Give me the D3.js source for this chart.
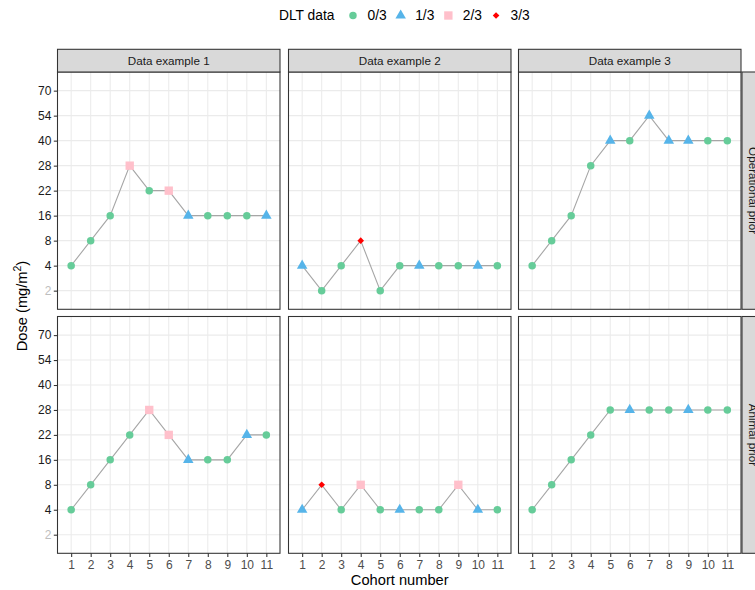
<!DOCTYPE html>
<html>
<head>
<meta charset="utf-8">
<script src="https://cdn.jsdelivr.net/npm/d3@7"></script>
<style>
  body { margin: 0; background: #fff; }
  svg text { font-family: "Liberation Sans", Arial, sans-serif; }
</style>
</head>
<body>
<svg id="chart" width="755" height="590"></svg>
<script>
// dose levels (discrete y axis), cohorts (x)
const doseLevels = ["2", "4", "8", "16", "22", "28", "40", "54", "70"];
const cohorts = [1, 2, 3, 4, 5, 6, 7, 8, 9, 10, 11];
const colLabels = ["Data example 1", "Data example 2", "Data example 3"];
const rowLabels = ["Operational prior", "Animal prior"];
const dltLevels = ["0/3", "1/3", "2/3", "3/3"];

// operational prior
const opEx1Dose = ["4", "8", "16", "28", "22", "22", "16", "16", "16", "16", "16"];
const opEx1Dlt  = [0, 0, 0, 2, 0, 2, 1, 0, 0, 0, 1];
const opEx2Dose = ["4", "2", "4", "8", "2", "4", "4", "4", "4", "4", "4"];
const opEx2Dlt  = [1, 0, 0, 3, 0, 0, 1, 0, 0, 1, 0];
const opEx3Dose = ["4", "8", "16", "28", "40", "40", "54", "40", "40", "40", "40"];
const opEx3Dlt  = [0, 0, 0, 0, 1, 0, 1, 1, 1, 0, 0];

// animal prior
const anEx1Dose = ["4", "8", "16", "22", "28", "22", "16", "16", "16", "22", "22"];
const anEx1Dlt  = [0, 0, 0, 0, 2, 2, 1, 0, 0, 1, 0];
const anEx2Dose = ["4", "8", "4", "8", "4", "4", "4", "4", "8", "4", "4"];
const anEx2Dlt  = [1, 3, 0, 2, 0, 1, 0, 0, 2, 1, 0];
const anEx3Dose = ["4", "8", "16", "22", "28", "28", "28", "28", "28", "28", "28"];
const anEx3Dlt  = [0, 0, 0, 0, 0, 1, 0, 0, 1, 0, 0];

const panels = [
  {row: 0, col: 0, dose: opEx1Dose, dlt: opEx1Dlt},
  {row: 0, col: 1, dose: opEx2Dose, dlt: opEx2Dlt},
  {row: 0, col: 2, dose: opEx3Dose, dlt: opEx3Dlt},
  {row: 1, col: 0, dose: anEx1Dose, dlt: anEx1Dlt},
  {row: 1, col: 1, dose: anEx2Dose, dlt: anEx2Dlt},
  {row: 1, col: 2, dose: anEx3Dose, dlt: anEx3Dlt}
];

const colX = [[57.5, 280], [288.5, 511], [518.5, 741]];
const rowY = [[72, 309.3], [316.5, 553.3]];
const stripTop = 49.3;

const dltColor = d3.scaleOrdinal().domain([0, 1, 2, 3])
  .range(["#66CC99", "#56B4E9", "#FFC0CB", "#FF0000"]);
const dltShape = d3.scaleOrdinal().domain([0, 1, 2, 3])
  .range([d3.symbolCircle, d3.symbolTriangle, d3.symbolSquare, d3.symbolSquare]);
const dltSize = d3.scaleOrdinal().domain([0, 1, 2, 3]).range([44, 48, 70, 22]);
const dltRot = d => d === 3 ? 45 : 0;

const svg = d3.select("#chart");
svg.append("rect").attr("width", 755).attr("height", 590).attr("fill", "#fff");

const tickCol = "#333333";

panels.forEach(p => {
  const [x0, x1] = colX[p.col];
  const [y0, y1] = rowY[p.row];
  const x = d3.scaleLinear().domain([1 - 0.7, 11 + 0.7]).range([x0, x1]);
  const y = d3.scalePoint().domain(doseLevels).range([y1, y0]).padding(0.746);

  const g = svg.append("g");
  g.append("rect").attr("x", x0).attr("y", y0)
    .attr("width", x1 - x0).attr("height", y1 - y0).attr("fill", "#fff");

  // grid
  g.selectAll(".gx").data(cohorts).join("line")
    .attr("x1", d => x(d)).attr("x2", d => x(d))
    .attr("y1", y0).attr("y2", y1)
    .attr("stroke", "#EBEBEB").attr("stroke-width", 1.07);
  g.selectAll(".gy").data(doseLevels).join("line")
    .attr("class", "gy")
    .attr("x1", x0).attr("x2", x1)
    .attr("y1", d => y(d)).attr("y2", d => y(d))
    .attr("stroke", "#EBEBEB").attr("stroke-width", 1.07);

  const pts = cohorts.map((c, i) => ({c, dose: p.dose[i], dlt: p.dlt[i]}));

  g.append("path").datum(pts)
    .attr("fill", "none").attr("stroke", "#A6A6A6").attr("stroke-width", 1.1)
    .attr("d", d3.line().x(d => x(d.c)).y(d => y(d.dose)));

  g.selectAll(".pt").data(pts).join("path")
    .attr("transform", d => `translate(${x(d.c)},${y(d.dose)}) rotate(${dltRot(d.dlt)})`)
    .attr("d", d => d3.symbol().type(dltShape(d.dlt)).size(dltSize(d.dlt))())
    .attr("fill", d => dltColor(d.dlt));

  g.append("rect").attr("x", x0).attr("y", y0)
    .attr("width", x1 - x0).attr("height", y1 - y0)
    .attr("fill", "none").attr("stroke", tickCol).attr("stroke-width", 1.07);

  // axes
  if (p.col === 0) {
    const ay = g.append("g").attr("transform", `translate(${x0},0)`)
      .call(d3.axisLeft(y).tickSize(3.7).tickPadding(2.5));
    ay.select(".domain").remove();
    ay.selectAll(".tick line").attr("stroke", tickCol).attr("stroke-width", 1.07);
    ay.selectAll(".tick text")
      .attr("font-family", "Liberation Sans, Arial, sans-serif")
      .attr("font-size", 12)
      .attr("fill", d => d === "2" ? "#BEBEBE" : "#1A1A1A");
  }
  if (p.row === 1) {
    const ax = g.append("g").attr("transform", `translate(0,${y1})`)
      .call(d3.axisBottom(x).tickValues(cohorts).tickFormat(d3.format("d"))
        .tickSize(3.7).tickPadding(3));
    ax.select(".domain").remove();
    ax.selectAll(".tick line").attr("stroke", tickCol).attr("stroke-width", 1.07);
    ax.selectAll(".tick text")
      .attr("font-family", "Liberation Sans, Arial, sans-serif")
      .attr("font-size", 12).attr("fill", "#4D4D4D");
  }
});

// top strips
colLabels.forEach((lab, i) => {
  const [x0, x1] = colX[i];
  svg.append("rect").attr("x", x0).attr("y", stripTop)
    .attr("width", x1 - x0).attr("height", rowY[0][0] - stripTop)
    .attr("fill", "#D9D9D9").attr("stroke", tickCol).attr("stroke-width", 1.07);
  svg.append("text").attr("x", (x0 + x1) / 2).attr("y", (stripTop + rowY[0][0]) / 2)
    .attr("text-anchor", "middle").attr("dy", "0.35em")
    .attr("font-size", 11.7).attr("fill", "#1A1A1A").text(lab);
});

// right strips (clipped by the picture edge)
rowLabels.forEach((lab, i) => {
  const [y0, y1] = rowY[i];
  const sx = colX[2][1] + 1;
  const sw = rowY[0][0] - stripTop;
  svg.append("rect").attr("x", sx).attr("y", y0)
    .attr("width", sw).attr("height", y1 - y0)
    .attr("fill", "#D9D9D9").attr("stroke", tickCol).attr("stroke-width", 1.07);
  svg.append("text")
    .attr("transform", `translate(${sx + sw / 2},${(y0 + y1) / 2}) rotate(90)`)
    .attr("text-anchor", "middle").attr("dy", "0.35em")
    .attr("font-size", 11.7).attr("fill", "#1A1A1A").text(lab);
});

// axis titles
svg.append("text")
  .attr("x", (colX[1][0] + colX[1][1]) / 2).attr("y", 585)
  .attr("text-anchor", "middle").attr("font-size", 14.67).attr("fill", "#000")
  .text("Cohort number");

const yt = svg.append("text")
  .attr("transform", `translate(27,306) rotate(-90)`)
  .attr("text-anchor", "middle").attr("font-size", 14.67).attr("fill", "#000");
yt.append("tspan").text("Dose (mg/m");
yt.append("tspan").attr("font-size", 10.5).attr("dy", -6).text("2");
yt.append("tspan").attr("dy", 6).text(")");

// legend
const lg = svg.append("g").attr("transform", "translate(0,15.5)");
const title = lg.append("text").attr("x", 279).attr("dy", "0.35em")
  .attr("font-size", 13.8).attr("fill", "#000").text("DLT data");
let cx = 279 + title.node().getComputedTextLength() + 18.5;
[0, 1, 2, 3].forEach((k, i) => {
  lg.append("path")
    .attr("transform", `translate(${cx},0) rotate(${dltRot(k)})`)
    .attr("d", d3.symbol().type(dltShape(k)).size(dltSize(k))())
    .attr("fill", dltColor(k));
  const t = lg.append("text").attr("x", cx + 14.5).attr("dy", "0.35em")
    .attr("font-size", 13.8).attr("fill", "#000").text(dltLevels[i]);
  cx = cx + 14.5 + t.node().getComputedTextLength() + 14;
});
</script>
</body>
</html>
